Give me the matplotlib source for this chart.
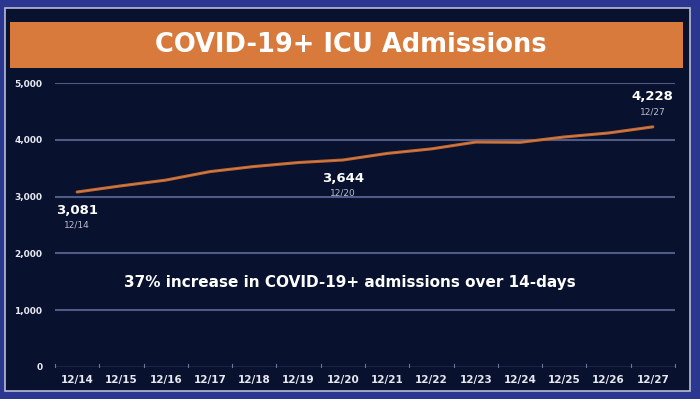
import numpy as np
import matplotlib
matplotlib.use("Agg")
import matplotlib.pyplot as plt
from matplotlib.patches import Rectangle

# Data
dates = ["12/14", "12/15", "12/16", "12/17", "12/18", "12/19", "12/20",
         "12/21", "12/22", "12/23", "12/24", "12/25", "12/26", "12/27"]
admissions = [3081, 3190, 3290, 3440, 3530, 3600, 3644,
              3760, 3840, 3960, 3955, 4050, 4120, 4228]
y_ticks = [0, 1000, 2000, 3000, 4000, 5000]
labelled = [0, 6, 13]  # indexes that get a value callout

title = "COVID-19+ ICU Admissions"
note = "37% increase in COVID-19+ admissions over 14-days"

# Colours
outer_col = "#2b3690"
panel_col = "#08122f"
banner_col = "#d77a3c"
line_col = "#c0652e"
grid_col = "#4f5a86"

W, H = 700, 399
fig = plt.figure(figsize=(W / 100, H / 100), dpi=100)
fig.patch.set_facecolor(outer_col)

# dark slide panel with a thin light frame
fig.add_artist(Rectangle((5 / W, 1 - 391 / H), 685 / W, 383 / H,
                         transform=fig.transFigure, facecolor=panel_col,
                         edgecolor="#b8bdd6", linewidth=1.2, zorder=0))
# orange title banner
fig.add_artist(Rectangle((10 / W, 1 - 68 / H), 673 / W, 46 / H,
                         transform=fig.transFigure, facecolor=banner_col,
                         edgecolor="none", zorder=1))
fig.text(351 / W, 1 - 45 / H, title, ha="center", va="center",
         color="white", fontsize=18.5, fontweight="bold",
         family="DejaVu Sans", zorder=2)

ax = fig.add_axes([55 / W, 1 - 367 / H, 620 / W, 284 / H])
ax.set_facecolor("none")
x = np.arange(len(dates))

ax.plot(x, admissions, color=line_col, linewidth=2.2, solid_capstyle="round",
        zorder=3)
ax.plot(x, admissions, color="#e09a6a", linewidth=0.6, alpha=0.6, zorder=4)

ax.set_xlim(-0.5, len(dates) - 0.5)
ax.set_ylim(0, 5000)

# gridlines
for yv in y_ticks[1:]:
    ax.axhline(yv, color=grid_col, linewidth=1.5, zorder=1)
ax.axhline(0, color="#6d7598", linewidth=1.0, zorder=1)
for b in np.arange(-0.5, len(dates), 1.0):
    ax.plot([b, b], [0, 45], color="#6d7598", linewidth=0.8, clip_on=False)

ax.set_yticks(y_ticks)
ax.set_yticklabels(["{:,}".format(v) for v in y_ticks], color="#e8e8f0",
                   fontsize=6.5, fontweight="bold")
ax.set_xticks(x)
ax.set_xticklabels(dates, color="#e8e8f0", fontsize=7.5, fontweight="bold")
ax.tick_params(axis="both", length=0)
ax.tick_params(axis="y", pad=9)
ax.tick_params(axis="x", pad=6)
for s in ax.spines.values():
    s.set_visible(False)

# value callouts: last point above the line, the others below
for i in labelled:
    if i == len(dates) - 1:
        dv, dd = 22, 11
    else:
        dv, dd = -13, -24
    ax.annotate("{:,}".format(admissions[i]), (x[i], admissions[i]),
                xytext=(0, dv), textcoords="offset points", ha="center",
                va="center", color="white", fontsize=9.5, fontweight="bold")
    ax.annotate(dates[i], (x[i], admissions[i]), xytext=(0, dd),
                textcoords="offset points", ha="center", va="center",
                color="#b8bcd0", fontsize=6.5)

# slide note, centred on the slide rather than the plot area
fig.text(350 / W, 1 - 283 / H, note, ha="center", va="center",
         color="white", fontsize=11, fontweight="bold")

fig.savefig("out.png", dpi=100, facecolor=fig.get_facecolor())
